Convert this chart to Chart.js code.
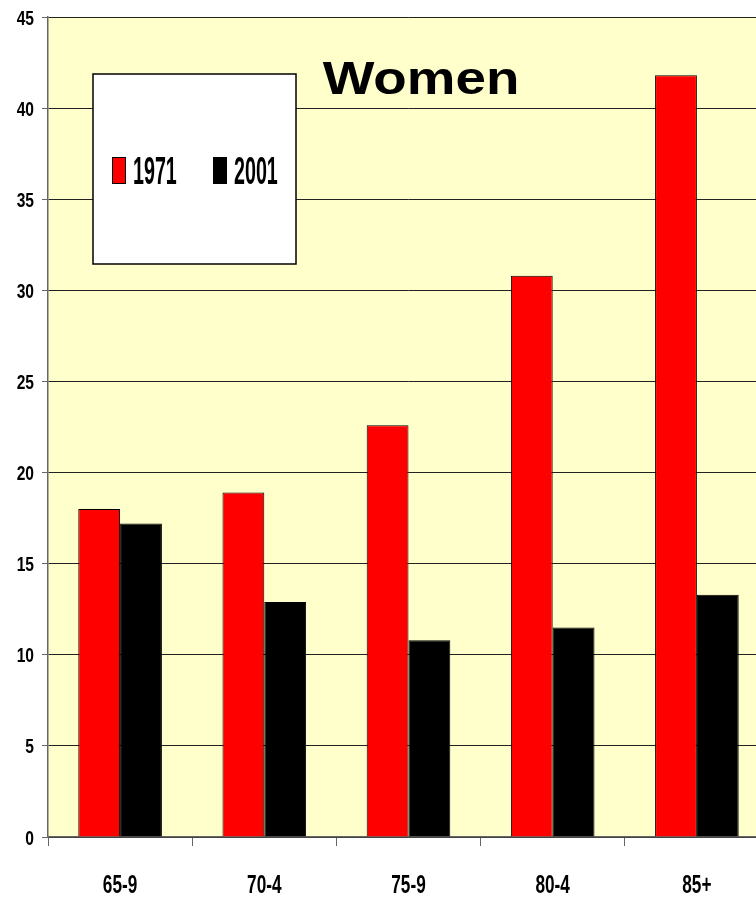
<!DOCTYPE html>
<html>
<head>
<meta charset="utf-8">
<script src="https://cdn.jsdelivr.net/npm/chart.js@4"></script>
<style>
  html, body { margin: 0; padding: 0; background: #fff; overflow: hidden; }
  #wrap { width: 770px; height: 897px; }
</style>
</head>
<body>
<div id="wrap"><canvas id="womenChart" width="770" height="897"></canvas></div>
<script>
const ageGroups = ["65-9", "70-4", "75-9", "80-4", "85+"];
const years = ["1971", "2001"];
const values1971 = [18.0, 18.9, 22.6, 30.8, 41.8];
const values2001 = [17.2, 12.9, 10.8, 11.5, 13.3];
const yTicks = [0, 5, 10, 15, 20, 25, 30, 35, 40, 45];

// no narrow face installed, so squeeze the regular bold one
const boldFont = "'Liberation Sans', Arial, sans-serif";

function stretchedText(ctx, text, x, y, size, sx, sy, align) {
  ctx.save();
  ctx.translate(x, y);
  ctx.scale(sx, sy);
  ctx.font = "bold " + size + "px " + boldFont;
  ctx.textAlign = align || "left";
  ctx.textBaseline = "alphabetic";
  ctx.fillStyle = "#000";
  ctx.fillText(text, 0, 0);
  ctx.restore();
}

const plotBackground = {
  id: "plotBackground",
  beforeDraw(chart) {
    const { ctx, chartArea: a } = chart;
    ctx.save();
    ctx.fillStyle = "#FFFFCC";
    ctx.fillRect(a.left, a.top, a.right - a.left, a.bottom - a.top);
    ctx.restore();
  }
};

// axis labels in the tall condensed look
const axisLabels = {
  id: "axisLabels",
  afterDraw(chart) {
    const ctx = chart.ctx;
    const x = chart.scales.x, y = chart.scales.y;
    yTicks.forEach(v => {
      stretchedText(ctx, String(v), 34, y.getPixelForValue(v) + 7.5, 19, 0.82, 1.1, "right");
    });
    ageGroups.forEach((lab, i) => {
      stretchedText(ctx, lab, x.getPixelForValue(i), 893, 21, 0.82, 1.2, "center");
    });
  }
};

// title and boxed legend sitting inside the plot
const overlay = {
  id: "overlay",
  afterDraw(chart) {
    const ctx = chart.ctx;
    stretchedText(ctx, "Women", 421, 94, 46, 1.19, 1, "center");

    ctx.save();
    ctx.fillStyle = "#fff";
    ctx.strokeStyle = "#000";
    ctx.lineWidth = 1.5;
    ctx.fillRect(93, 74, 203, 190);
    ctx.strokeRect(93, 74, 203, 190);
    ctx.restore();

    const items = [
      { x: 112, ds: chart.data.datasets[0] },
      { x: 213, ds: chart.data.datasets[1] }
    ];
    items.forEach(it => {
      ctx.save();
      ctx.fillStyle = it.ds.backgroundColor;
      ctx.strokeStyle = "#000";
      ctx.lineWidth = 1;
      ctx.fillRect(it.x, 157, 14, 27);
      ctx.strokeRect(it.x + 0.5, 157.5, 13, 26);
      ctx.restore();
      stretchedText(ctx, it.ds.label, it.x + 21, 184, 24, 0.82, 1.63, "left");
    });
  }
};

new Chart(document.getElementById("womenChart"), {
  type: "bar",
  data: {
    labels: ageGroups,
    datasets: [
      {
        label: years[0],
        data: values1971,
        backgroundColor: "#FF0000",
        borderColor: "#000",
        borderWidth: 1,
        categoryPercentage: 0.58,
        barPercentage: 1.0
      },
      {
        label: years[1],
        data: values2001,
        backgroundColor: "#000000",
        borderColor: "#000",
        borderWidth: 1,
        categoryPercentage: 0.58,
        barPercentage: 1.0
      }
    ]
  },
  options: {
    responsive: false,
    animation: false,
    layout: { padding: { top: 17, right: 1, left: 0, bottom: 0 } },
    plugins: {
      legend: { display: false },
      tooltip: { enabled: false }
    },
    scales: {
      x: {
        afterFit: s => { s.height = 60; },
        grid: {
          offset: true,
          drawOnChartArea: false,
          tickLength: 9,
          color: "#666"
        },
        border: { color: "#666", width: 1.5 },
        ticks: { display: false }
      },
      y: {
        min: 0,
        max: 45,
        afterFit: s => { s.width = 48; },
        afterBuildTicks: s => { s.ticks = yTicks.map(v => ({ value: v })); },
        grid: {
          color: "#222",
          lineWidth: 1,
          tickLength: 6,
          tickColor: "#666"
        },
        border: { color: "#666", width: 1.5 },
        ticks: { display: false }
      }
    }
  },
  plugins: [plotBackground, axisLabels, overlay]
});
</script>
</body>
</html>
